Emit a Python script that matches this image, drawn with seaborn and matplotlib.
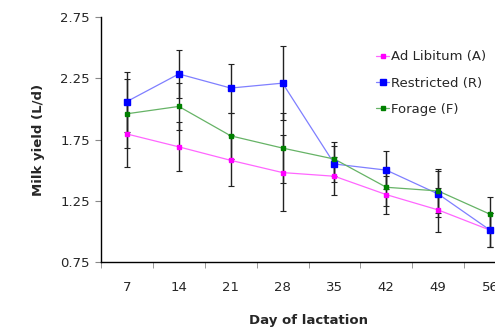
import numpy as np
import pandas as pd
import matplotlib
matplotlib.use("Agg")
import matplotlib.pyplot as plt
from matplotlib.lines import Line2D
from matplotlib.ticker import FixedLocator
import seaborn as sns

days = [7, 14, 21, 28, 35, 42, 49, 56]
groups = ["Ad Libitum (A)", "Restricted (R)", "Forage (F)"]
ad_libitum = [1.795, 1.69, 1.58, 1.48, 1.45, 1.30, 1.175, 1.01]
restricted = [2.06, 2.285, 2.17, 2.21, 1.55, 1.50, 1.305, 1.01]
forage = [1.96, 2.02, 1.78, 1.68, 1.59, 1.36, 1.33, 1.14]
ad_libitum_err = [0.27, 0.20, 0.21, 0.31, 0.155, 0.155, 0.18, 0.14]
restricted_err = [0.245, 0.195, 0.20, 0.30, 0.15, 0.155, 0.19, 0.14]
forage_err = [0.28, 0.195, 0.19, 0.285, 0.14, 0.15, 0.18, 0.14]

df = pd.DataFrame({
    "day": days * 3,
    "yield": ad_libitum + restricted + forage,
    "err": ad_libitum_err + restricted_err + forage_err,
    "group": np.repeat(groups, len(days)),
})

line_cols = {"Ad Libitum (A)": "#ff66ff", "Restricted (R)": "#7f7fff", "Forage (F)": "#66b366"}
mark_cols = {"Ad Libitum (A)": "#ff00ff", "Restricted (R)": "#0000ff", "Forage (F)": "#008000"}
mark_size = {"Ad Libitum (A)": 3, "Restricted (R)": 4.5, "Forage (F)": 3}

sns.set_style("white")
plt.rcParams["font.family"] = ["DejaVu Sans"]

fig = plt.figure(figsize=(4.95, 3.29), dpi=100)
ax = fig.add_axes([101 / 495, 1 - 262 / 329, 415 / 495, 245 / 329])

for g in groups:
    sub = df[df.group == g]
    ax.errorbar(sub["day"], sub["yield"], yerr=sub["err"], fmt="none",
                ecolor="#222222", elinewidth=1.0, capsize=2, capthick=0.8, zorder=1)

sns.lineplot(data=df, x="day", y="yield", hue="group", palette=line_cols,
             linewidth=0.9, legend=False, ax=ax, zorder=2)
for g in groups:
    sub = df[df.group == g]
    ax.plot(sub["day"], sub["yield"], ls="none", marker="s", ms=mark_size[g],
            mfc=mark_cols[g], mec=mark_cols[g], zorder=3)

ax.set_xlim(3.5, 59.5)
ax.set_ylim(0.75, 2.75)
ax.set_xticks(days)
ax.set_xticklabels([str(d) for d in days])
ax.xaxis.set_minor_locator(FixedLocator([3.5 + 7 * k for k in range(9)]))
ax.tick_params(axis="x", which="major", length=0, pad=14, labelsize=9.5)
ax.tick_params(axis="x", which="minor", length=4, color="#888888", bottom=True)
ax.set_yticks([0.75, 1.25, 1.75, 2.25, 2.75])
ax.tick_params(axis="y", length=4, color="#888888", left=True, labelsize=9.5, pad=4)

for s in ["top", "right"]:
    ax.spines[s].set_visible(False)
for s in ["left", "bottom"]:
    ax.spines[s].set_color("black")
    ax.spines[s].set_linewidth(1.0)

ax.set_xlabel("Day of lactation", fontweight="bold", fontsize=9.5, labelpad=14)
ax.set_ylabel("Milk yield (L/d)", fontweight="bold", fontsize=9.5, labelpad=11)

handles = [Line2D([0], [0], color=line_cols[g], lw=0.9, marker="s", ms=mark_size[g],
                  mfc=mark_cols[g], mec=mark_cols[g]) for g in groups]
ax.legend(handles, groups, loc="upper left", bbox_to_anchor=(270 / 415, 0.885),
          frameon=False, fontsize=9.5, handlelength=1.0, handletextpad=0.1,
          labelspacing=1.0, borderaxespad=0)

fig.savefig("out.png", dpi=100)
